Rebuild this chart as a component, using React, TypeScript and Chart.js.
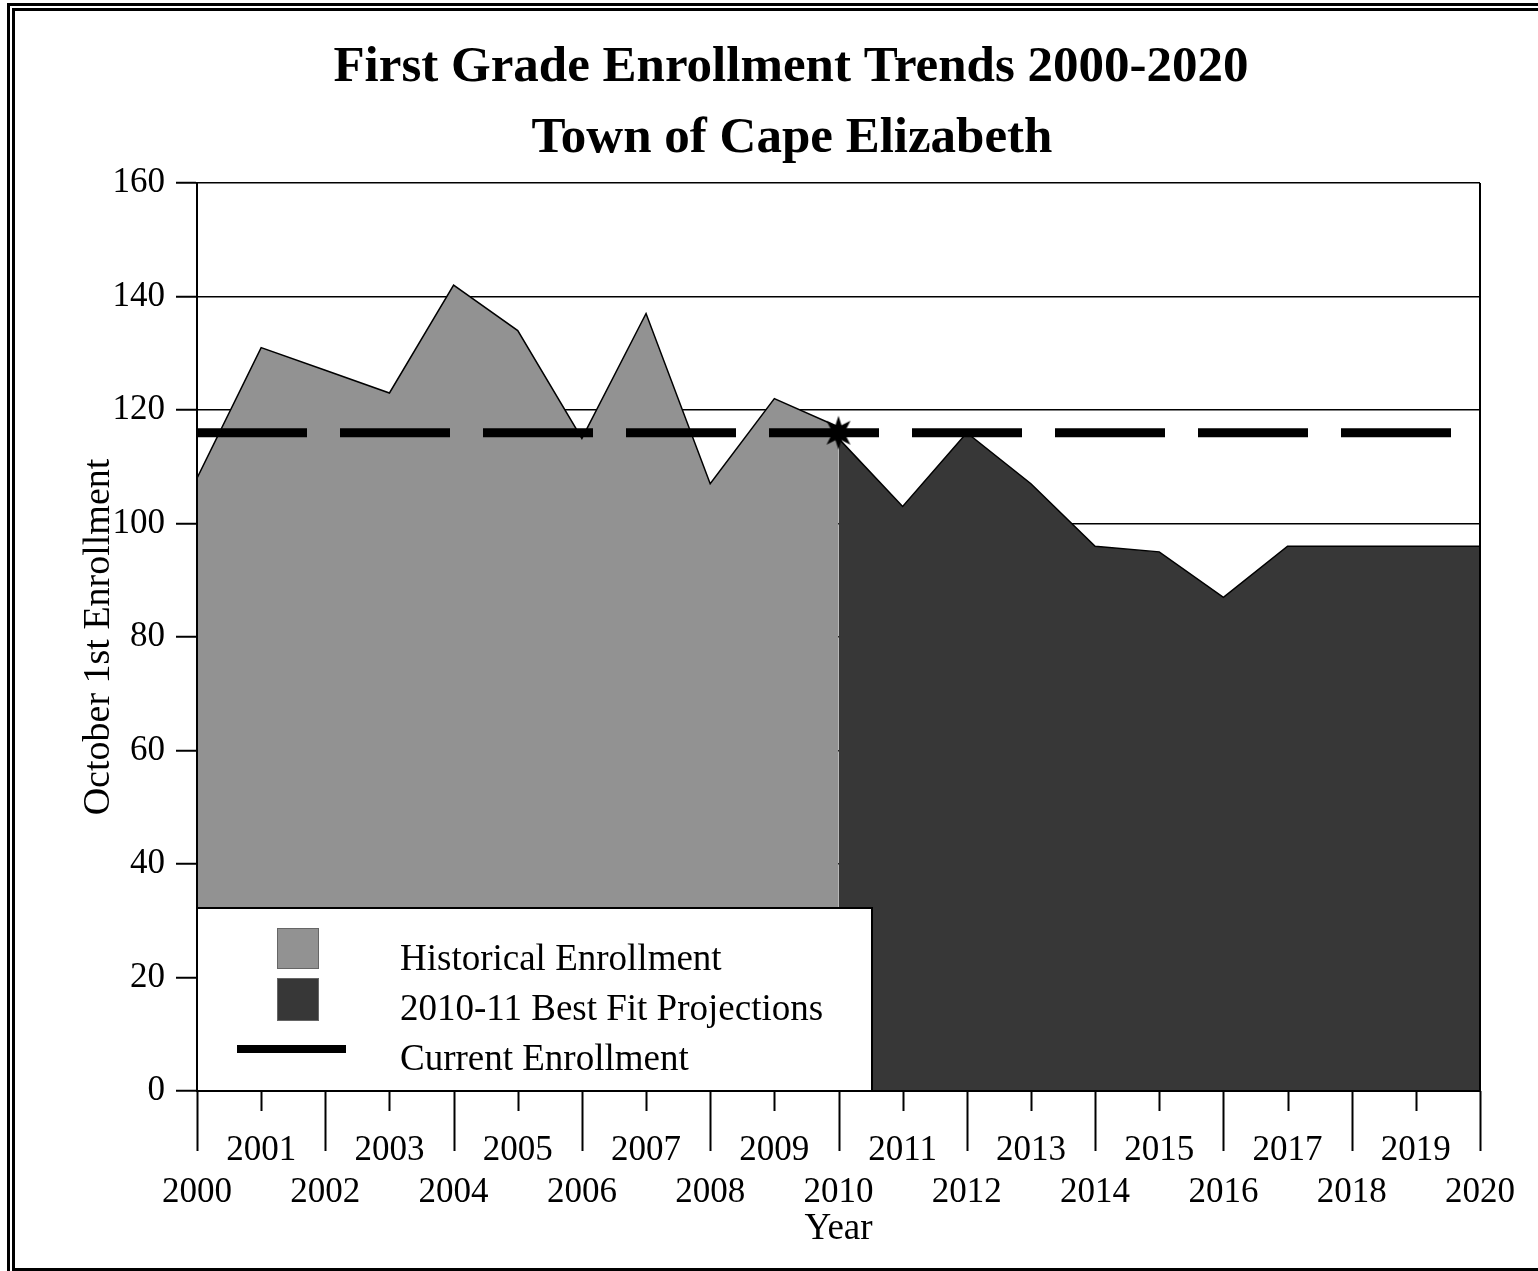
import React, { useEffect, useRef } from "react";
import { Chart, registerables } from "chart.js";

Chart.register(...registerables);

// ---------- data ----------
const TITLE_LINES = ["First Grade Enrollment Trends 2000-2020", "Town of Cape Elizabeth"];
const X_TITLE = "Year";
const Y_TITLE = "October 1st Enrollment";

const HIST_YEARS = [2000, 2001, 2002, 2003, 2004, 2005, 2006, 2007, 2008, 2009, 2010];
const HIST_VALUES = [108, 131, 127, 123, 142, 134, 115, 137, 107, 122, 117];

const PROJ_YEARS = [2010, 2011, 2012, 2013, 2014, 2015, 2016, 2017, 2018, 2019, 2020];
const PROJ_VALUES = [115, 103, 116, 107, 96, 95, 87, 96, 96, 96, 96];

const CURRENT_YEARS = [2000, 2020];
const CURRENT_VALUE = 116;
const MARKER_YEAR = 2010;

const X_MIN = 2000;
const X_MAX = 2020;
const Y_MIN = 0;
const Y_MAX = 160;
const Y_STEP = 20;

const LEGEND_LABELS = ["Historical Enrollment", "2010-11 Best Fit Projections", "Current Enrollment"];

// ---------- styles ----------
const FONT = '"Liberation Serif", "Times New Roman", serif';
const HIST_COLOR = "#929292";
const PROJ_COLOR = "#373737";

function makeStar(): HTMLCanvasElement {
  const c = document.createElement("canvas");
  c.width = 36;
  c.height = 36;
  const g = c.getContext("2d")!;
  const n = 8;
  const ro = 17;
  const ri = 8;
  g.beginPath();
  for (let i = 0; i < n * 2; i++) {
    const r = i % 2 === 0 ? ro : ri;
    const a = -Math.PI / 2 + (i * Math.PI) / n;
    const px = 18 + r * Math.cos(a);
    const py = 18 + r * Math.sin(a);
    if (i === 0) g.moveTo(px, py);
    else g.lineTo(px, py);
  }
  g.closePath();
  g.fillStyle = "#000";
  g.fill();
  return c;
}

const decorPlugin = {
  id: "decor",
  afterDatasetsDraw(chart: any) {
    const { ctx, chartArea: a, scales } = chart;
    const x = scales.x;
    ctx.save();
    // right border of plot
    const xr = x.getPixelForValue(X_MAX);
    ctx.strokeStyle = "#000";
    ctx.lineWidth = 2;
    ctx.beginPath();
    ctx.moveTo(xr, a.top);
    ctx.lineTo(xr, a.bottom);
    ctx.stroke();

    // year tick marks (odd short, even long)
    for (let v = X_MIN; v <= X_MAX; v++) {
      const px = Math.round(x.getPixelForValue(v)) + 0.5;
      const len = v % 2 === 0 ? 60 : 20;
      ctx.lineWidth = 2;
      ctx.beginPath();
      ctx.moveTo(px, a.bottom);
      ctx.lineTo(px, a.bottom + len);
      ctx.stroke();
    }

    // legend box
    const lx = a.left;
    const lw = 675;
    const lh = 183;
    const ly = a.bottom - lh;
    ctx.fillStyle = "#fff";
    ctx.fillRect(lx, ly, lw, lh);
    ctx.lineWidth = 2;
    ctx.strokeStyle = "#000";
    ctx.strokeRect(lx, ly, lw, lh);

    ctx.fillStyle = HIST_COLOR;
    ctx.fillRect(lx + 80, ly + 20, 41, 40);
    ctx.strokeStyle = "#666";
    ctx.lineWidth = 1;
    ctx.strokeRect(lx + 80.5, ly + 20.5, 41, 40);
    ctx.fillStyle = PROJ_COLOR;
    ctx.fillRect(lx + 80, ly + 70, 41, 42);
    ctx.strokeRect(lx + 80.5, ly + 70.5, 41, 42);
    ctx.fillStyle = "#000";
    ctx.fillRect(lx + 40, ly + 137, 109, 8);

    ctx.font = `37px ${FONT}`;
    ctx.textAlign = "left";
    ctx.textBaseline = "middle";
    ctx.fillStyle = "#000";
    LEGEND_LABELS.forEach((t, i) => {
      ctx.fillText(t, lx + 203, ly + 52 + i * 50);
    });
    ctx.restore();
  },
  afterDraw(chart: any) {
    const { ctx } = chart;
    ctx.save();
    ctx.font = `bold 51px ${FONT}`;
    ctx.textAlign = "center";
    ctx.textBaseline = "middle";
    ctx.fillStyle = "#000";
    ctx.fillText(TITLE_LINES[0], 791, 68);
    ctx.fillText(TITLE_LINES[1], 792, 139);
    ctx.restore();
  },
};

export default function App() {
  const ref = useRef<HTMLCanvasElement | null>(null);

  useEffect(() => {
    if (!ref.current) return;
    const star = makeStar();
    const chart = new Chart(ref.current, {
      type: "line",
      data: {
        datasets: [
          {
            label: "marker",
            data: [{ x: MARKER_YEAR, y: CURRENT_VALUE }],
            showLine: false,
            pointStyle: star as any,
            pointRadius: 17,
            order: 0,
          },
          {
            label: LEGEND_LABELS[2],
            data: CURRENT_YEARS.map((yr) => ({ x: yr, y: CURRENT_VALUE })),
            borderColor: "#000",
            borderWidth: 9,
            borderDash: [110, 33],
            borderCapStyle: "butt",
            pointRadius: 0,
            fill: false,
            order: 1,
          },
          {
            label: LEGEND_LABELS[1],
            data: PROJ_YEARS.map((yr, i) => ({ x: yr, y: PROJ_VALUES[i] })),
            borderColor: "#000",
            borderWidth: 1.5,
            backgroundColor: PROJ_COLOR,
            fill: "origin",
            pointRadius: 0,
            tension: 0,
            order: 2,
          },
          {
            label: LEGEND_LABELS[0],
            data: HIST_YEARS.map((yr, i) => ({ x: yr, y: HIST_VALUES[i] })),
            borderColor: "#000",
            borderWidth: 1.5,
            backgroundColor: HIST_COLOR,
            fill: "origin",
            pointRadius: 0,
            tension: 0,
            order: 3,
          },
        ],
      },
      options: {
        animation: false,
        responsive: false,
        devicePixelRatio: 1,
        layout: { padding: { top: 183, left: 0, right: 58, bottom: 0 } },
        plugins: {
          legend: { display: false },
          tooltip: { enabled: false },
          title: { display: false },
        },
        scales: {
          x: {
            type: "linear",
            min: X_MIN,
            max: X_MAX,
            afterFit: (s: any) => {
              s.height = 180;
            },
            ticks: {
              stepSize: 1,
              maxTicksLimit: 30,
              autoSkip: false,
              maxRotation: 0,
              minRotation: 0,
              padding: 18.6,
              color: "#000",
              font: { family: FONT, size: 35 },
              callback: (v: any) => {
                const n = Number(v);
                return n % 2 === 1 ? String(n) : ["", String(n)];
              },
            },
            grid: {
              color: "transparent",
              drawOnChartArea: false,
              drawTicks: true,
              tickLength: 20,
              tickColor: "transparent",
            },
            border: { display: true, color: "#000", width: 2, z: 1 },
            title: {
              display: true,
              text: X_TITLE,
              color: "#000",
              font: { family: FONT, size: 37 },
              padding: { top: 0, bottom: 19.8 },
            },
          },
          y: {
            type: "linear",
            min: Y_MIN,
            max: Y_MAX,
            afterFit: (s: any) => {
              s.width = 197;
            },
            ticks: {
              stepSize: Y_STEP,
              padding: 11,
              color: "#000",
              font: { family: FONT, size: 35 },
            },
            grid: {
              color: "#000",
              lineWidth: 1.5,
              drawTicks: true,
              tickLength: 21,
              tickColor: "#000",
              tickWidth: 2,
            },
            border: { display: true, color: "#000", width: 2, z: 1 },
            title: {
              display: true,
              text: Y_TITLE,
              color: "#000",
              font: { family: FONT, size: 38 },
              padding: { top: 76.2, bottom: 0 },
            },
          },
        },
      },
      plugins: [decorPlugin],
    } as any);
    return () => chart.destroy();
  }, []);

  return (
    <div
      style={{
        position: "absolute",
        left: 0,
        top: 0,
        width: 1538,
        height: 1271,
        overflow: "hidden",
        background: "#fff",
      }}
    >
      <canvas
        ref={ref}
        width={1538}
        height={1271}
        style={{ position: "absolute", left: 0, top: 0, width: 1538, height: 1271 }}
      />
      <div
        style={{
          position: "absolute",
          left: 7,
          top: 3,
          width: 1620,
          height: 1273,
          border: "8px double #000",
          boxSizing: "border-box",
          pointerEvents: "none",
        }}
      />
    </div>
  );
}
